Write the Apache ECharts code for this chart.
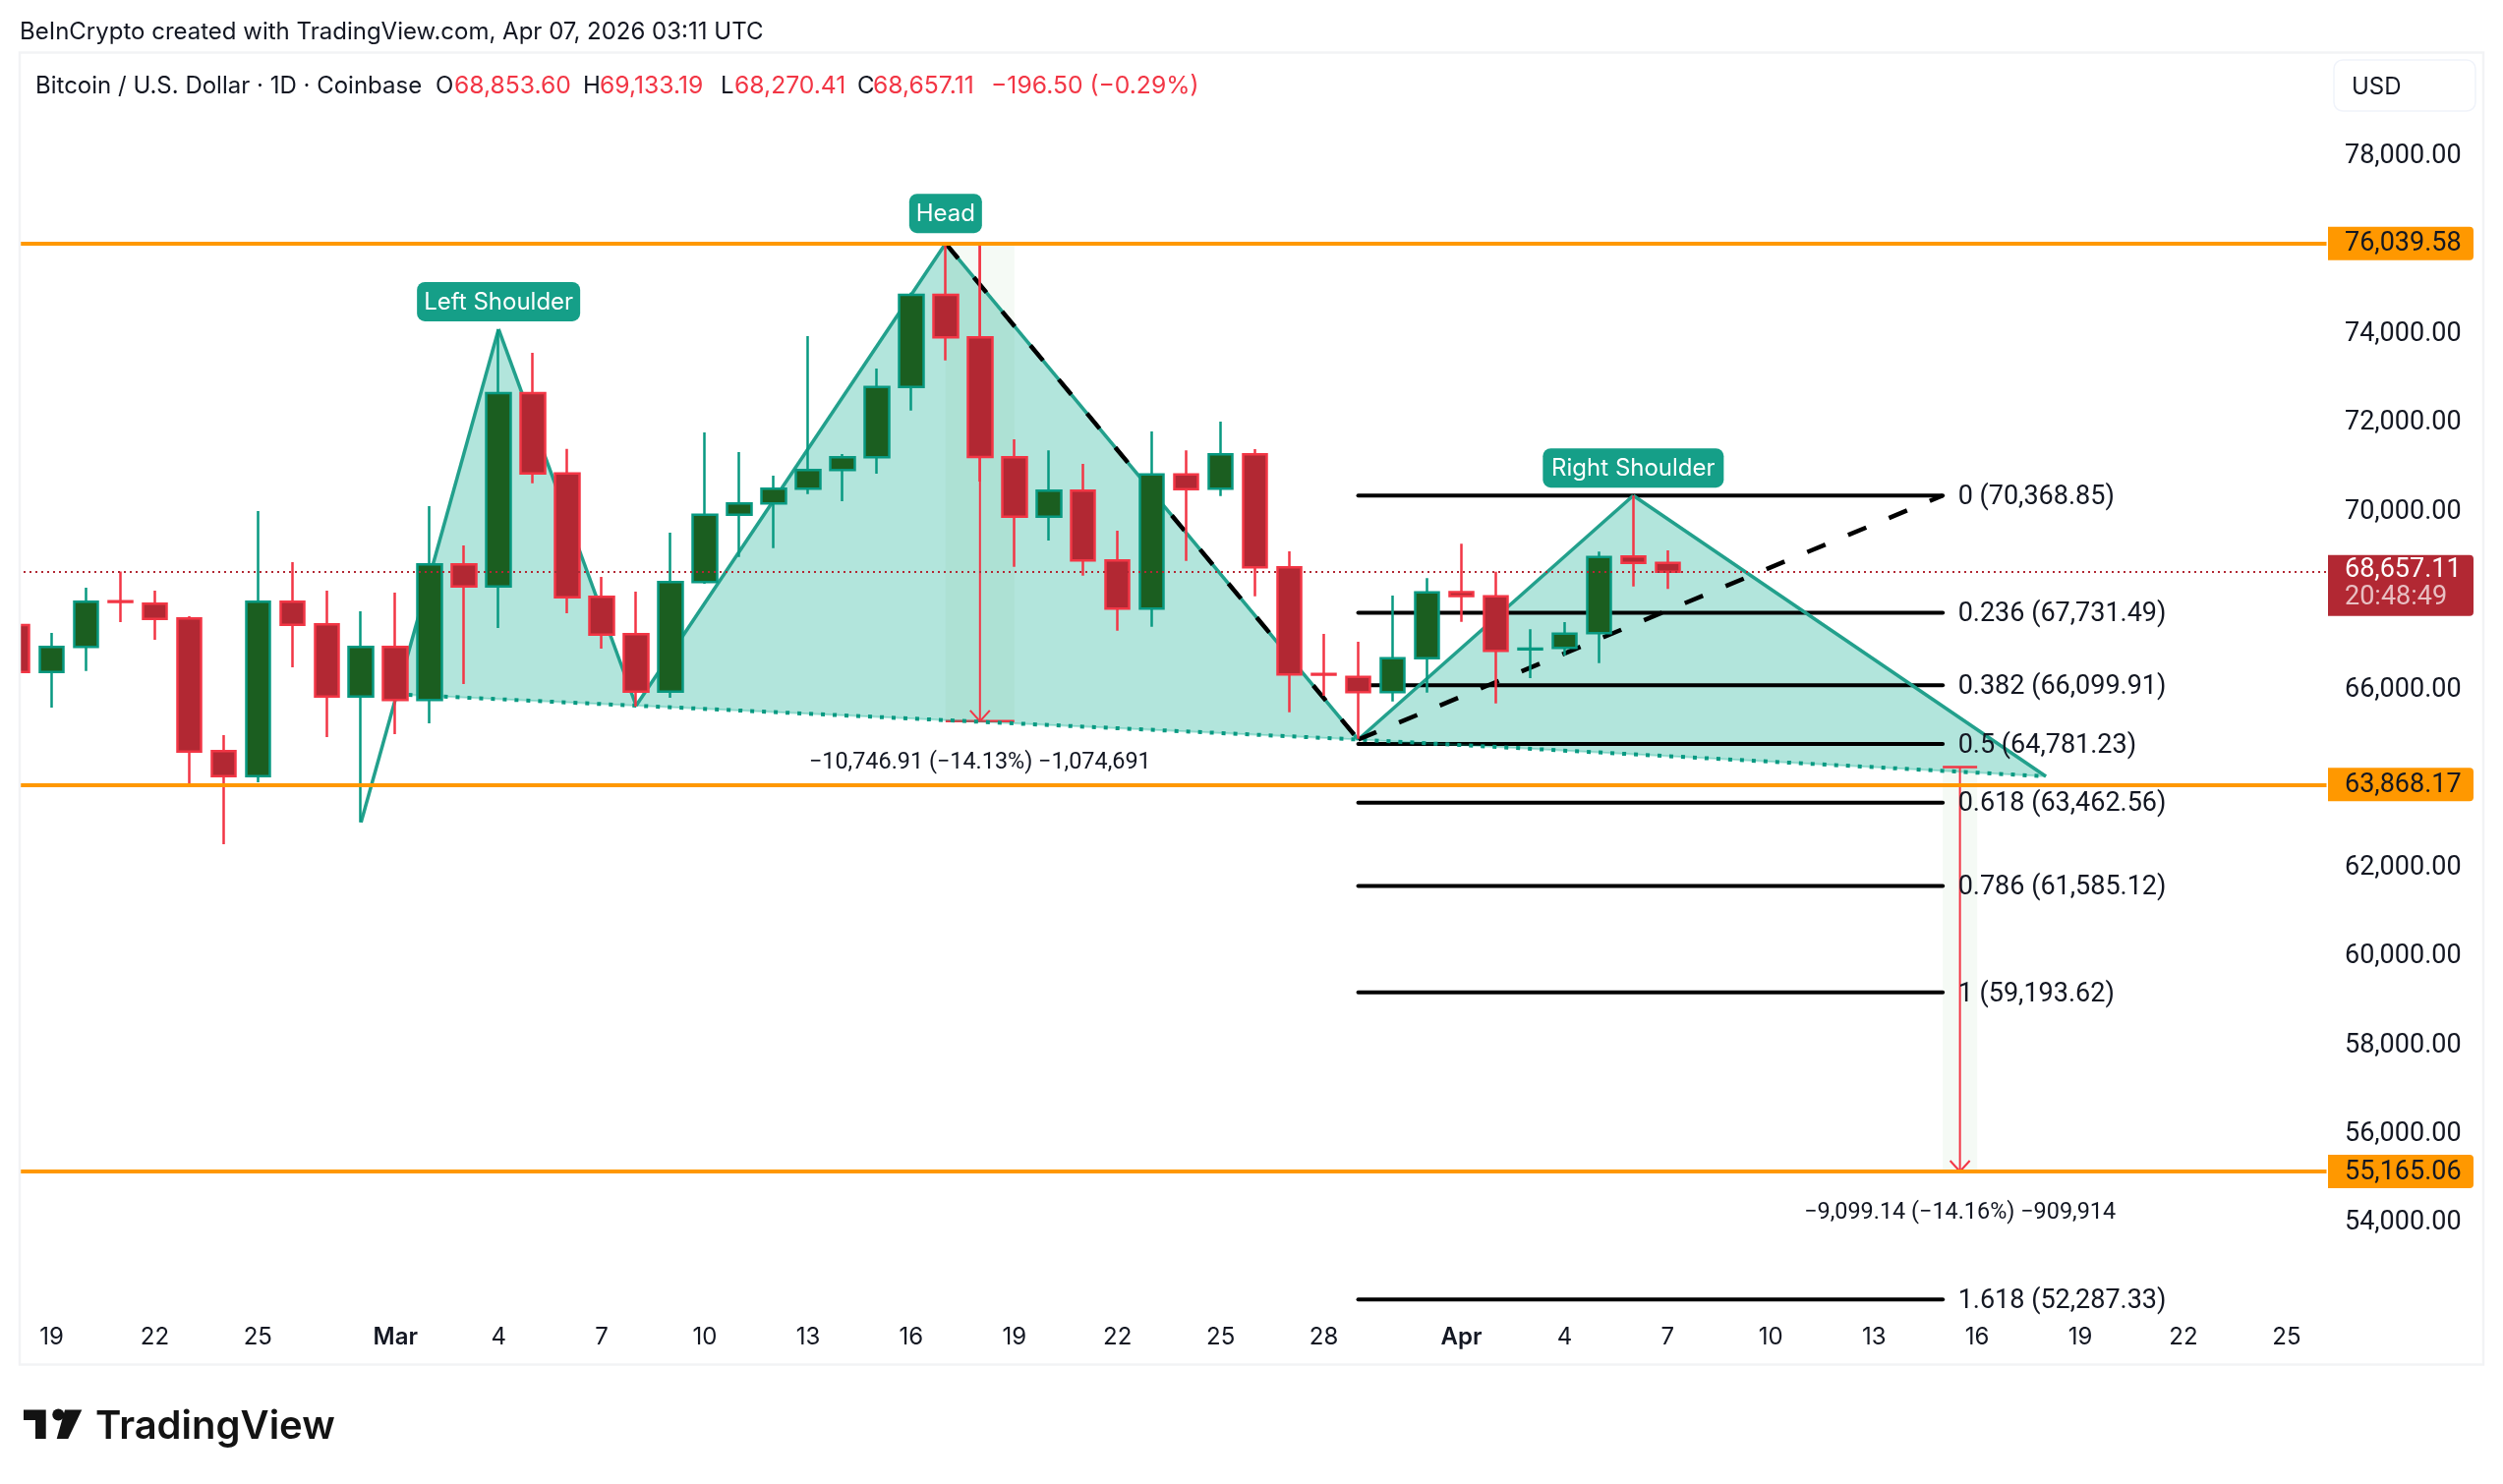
<!DOCTYPE html>
<html><head><meta charset="utf-8">
<style>html,body{margin:0;padding:0;background:#fff}#c{width:2546px;height:1510px}</style>
<script src="https://cdn.jsdelivr.net/npm/echarts@6/dist/echarts.min.js"></script>
</head><body><div id="c"></div>
<script>
const categories = ['Feb 18','Feb 19','Feb 20','Feb 21','Feb 22','Feb 23','Feb 24','Feb 25','Feb 26','Feb 27','Feb 28',
'Mar 1','Mar 2','Mar 3','Mar 4','Mar 5','Mar 6','Mar 7','Mar 8','Mar 9','Mar 10','Mar 11','Mar 12','Mar 13','Mar 14','Mar 15','Mar 16','Mar 17','Mar 18','Mar 19','Mar 20','Mar 21','Mar 22','Mar 23','Mar 24','Mar 25','Mar 26','Mar 27','Mar 28','Mar 29','Mar 30','Mar 31',
'Apr 1','Apr 2','Apr 3','Apr 4','Apr 5','Apr 6','Apr 7','Apr 8','Apr 9','Apr 10','Apr 11','Apr 12','Apr 13','Apr 14','Apr 15','Apr 16','Apr 17','Apr 18','Apr 19','Apr 20','Apr 21','Apr 22','Apr 23','Apr 24','Apr 25','Apr 26'];
// open, close, low, high
const ohlc = [
[67457,66402,66300,67600],[66402,66964,65600,67280],[66964,67981,66420,68297],[67990,67975,67523,68660],[67936,67596,67125,68230],
[67605,64612,63854,67656],[64620,64059,62528,64981],[64059,67981,63920,70021],[67981,67463,66506,68871],[67472,65850,64937,68230],
[65850,66964,63020,67766],[66964,65770,65003,68186],[65770,68820,65246,70131],[68820,68325,66130,69247],[68325,72673,67390,74110],
[72673,70867,70646,73580],[70867,68082,67722,71420],[68091,67242,66926,68540],[67251,65960,65622,68208],[65960,68423,65821,69534],
[68423,69939,68385,71789],[69939,70191,68989,71347],[70191,70522,69187,70817],[70522,70942,70403,73955],[70942,71230,70242,71303],
[71230,72812,70861,73226],[72812,74884,72282,74930],[74884,73926,73409,76040],[73926,71236,70684,76000],[71230,69895,68767,71634],
[69895,70478,69358,71384],[70478,68909,68568,71082],[68909,67826,67331,69579],[67826,70845,67419,71811],[70845,70514,68900,71384],
[70522,71296,70359,72032],[71296,68754,68104,71413],[68754,66345,65496,69114],[66354,66340,65865,67258],[66292,65947,64899,67081],
[65947,66712,65739,68120],[66712,68193,65938,68511],[68197,68109,67530,69285],[68104,66875,65695,68657],[66910,66925,66263,67362],
[66942,67264,66771,67523],[67273,68989,66601,69108],[68997,68853.6,68325,70368.85],[68853.6,68657.11,68270.41,69133.19]];
const xTickDates = ['Feb 19','Feb 22','Feb 25','Mar 1','Mar 4','Mar 7','Mar 10','Mar 13','Mar 16','Mar 19','Mar 22','Mar 25','Mar 28','Apr 1','Apr 4','Apr 7','Apr 10','Apr 13','Apr 16','Apr 19','Apr 22','Apr 25'];
const xTickLabels = ['19','22','25','Mar','4','7','10','13','16','19','22','25','28','Apr','4','7','10','13','16','19','22','25'];
const yTickValues = [78000,74000,72000,70000,66000,62000,60000,58000,56000,54000];
const orangeLevels = [76039.58,63868.17,55165.06];
const lastPrice = 68657.11;
const patternDates = ['Feb 28','Mar 4','Mar 8','Mar 17','Mar 29','Apr 6','Apr 18'];
const patternPrices = [63020,74110,65643,76039.58,64880,70368.85,64052];
const patternLabels = [[1,'Left Shoulder'],[3,'Head'],[5,'Right Shoulder']];
const fibStart = 'Mar 29', fibEnd = 'Apr 15';
const fibPrices = [70368.85,67731.49,66099.91,64781.23,63462.56,61585.12,59193.62,52287.33];
const fibTexts = ['0 (70,368.85)','0.236 (67,731.49)','0.382 (66,099.91)','0.5 (64,781.23)','0.618 (63,462.56)','0.786 (61,585.12)','1 (59,193.62)','1.618 (52,287.33)'];
const measure1 = {from:'Mar 17',to:'Mar 19',top:76039.58,bottom:65292.67,text:'\u221210,746.91 (\u221214.13%) \u22121,074,691'};
const measure2 = {from:'Apr 15',to:'Apr 16',top:64264.2,bottom:55165.06,text:'\u22129,099.14 (\u221214.16%) \u2212909,914'};
const FONT='Inter, "Noto Sans", sans-serif';
const NUM='Roboto, Inter, sans-serif';
const INK='#131722', UP='#1B5E20', UPB='#089981', DN='#B22833', DNB='#F23645', ORANGE='#FF9800', TEAL='#22A08C', LABEL='#159F88';
const fmt = v => v.toLocaleString('en-US',{minimumFractionDigits:2,maximumFractionDigits:2});
const ix = d => categories.indexOf(d);

function line(a,b,stroke,lw,extra){return Object.assign({type:'line',shape:{x1:a[0],y1:a[1],x2:b[0],y2:b[1]},style:Object.assign({stroke,lineWidth:lw},extra||{})});}
function measureShapes(api,m){
  const a=api.coord([ix(m.from),m.top]), b=api.coord([ix(m.to),m.bottom]);
  const cx=(a[0]+b[0])/2;
  return [
   {type:'rect',shape:{x:a[0],y:a[1],width:b[0]-a[0],height:b[1]-a[1]},style:{fill:'rgba(110,185,115,0.07)'}},
   line([cx,a[1]],[cx,b[1]],DNB,2),
   line([a[0],m===measure1?b[1]:a[1]],[b[0],m===measure1?b[1]:a[1]],DNB,2.5),
   line([cx-10,b[1]-11],[cx,b[1]],DNB,2),
   line([cx+10,b[1]-11],[cx,b[1]],DNB,2)
  ];
}
function renderUnder(params,api){
  const p=patternDates.map((d,i)=>api.coord([ix(d),patternPrices[i]]));
  // where the rising first leg meets the neckline
  const n1=p[2],n2=p[4],s=p[0],e=p[1];
  const m=(n2[1]-n1[1])/(n2[0]-n1[0]), k=(e[1]-s[1])/(e[0]-s[0]);
  const xi=(n1[1]-m*n1[0]-s[1]+k*s[0])/(k-m), yi=s[1]+k*(xi-s[0]);
  const q=[xi,yi];
  const fill='rgba(0,170,140,0.3)';
  const kids=[
    {type:'polygon',shape:{points:[q,p[1],p[2]]},style:{fill}},
    {type:'polygon',shape:{points:[p[2],p[3],p[4]]},style:{fill}},
    {type:'polygon',shape:{points:[p[4],p[5],p[6]]},style:{fill}}
  ];
  kids.push(...measureShapes(api,measure1),...measureShapes(api,measure2));
  fibPrices.forEach(v=>{
    kids.push(line(api.coord([ix(fibStart),v]),api.coord([ix(fibEnd),v]),'#000',4,{lineCap:'round'}));
  });
  for(let i=0;i<p.length-1;i++) kids.push(line(p[i],p[i+1],TEAL,3.5));
  kids.push({type:'polyline',shape:{points:[q,p[2],p[4],p[6]]},style:{fill:'none',stroke:'rgba(0,170,140,0.3)',lineWidth:2}});
  kids.push({type:'polyline',shape:{points:[q,p[2],p[4],p[6]]},style:{fill:'none',stroke:'#089981',lineWidth:4,lineDash:[4,8]}});
  const dash={lineDash:[20,25]};
  kids.push(line(p[3],p[4],'#000',4.5,dash));
  kids.push(line(p[4],api.coord([ix(fibEnd),fibPrices[0]]),'#000',4.5,dash));
  return {type:'group',children:kids};
}
function renderOver(params,api){
  const kids=[];
  const W={'Left Shoulder':166,'Head':74,'Right Shoulder':184};
  const GAP={'Left Shoulder':48,'Head':50.5,'Right Shoulder':48};
  patternLabels.forEach(([i,t])=>{
    const c=api.coord([ix(patternDates[i]),patternPrices[i]]);
    const w=W[t], top=c[1]-GAP[t];
    kids.push({type:'rect',shape:{x:c[0]-w/2,y:top,width:w,height:40,r:8},style:{fill:LABEL}});
    kids.push({type:'text',style:{text:t,x:c[0],y:top+21,fill:'#fff',font:'24px '+FONT,textAlign:'center',textVerticalAlign:'middle'}});
  });
  fibPrices.forEach((v,i)=>{
    const c=api.coord([ix(fibEnd),v]);
    kids.push({type:'text',style:{text:fibTexts[i],x:c[0]+15.5,y:c[1]+2,fill:INK,font:'27px '+NUM,textAlign:'left',textVerticalAlign:'middle'}});
  });
  [measure1,measure2].forEach(m=>{
    const a=api.coord([ix(m.from),m.top]), b=api.coord([ix(m.to),m.bottom]);
    kids.push({type:'text',style:{text:m.text,x:(a[0]+b[0])/2,y:b[1]+42,fill:INK,font:'23.4px '+NUM,textAlign:'center',textVerticalAlign:'middle'}});
  });
  orangeLevels.forEach(v=>{
    const y=api.coord([0,v])[1];
    kids.push({type:'rect',shape:{x:2368,y:y-17,width:148,height:34,r:[0,4,4,0]},style:{fill:ORANGE}});
    kids.push({type:'text',style:{text:fmt(v),x:2385,y:y+1,fill:INK,font:'27px '+NUM,textVerticalAlign:'middle'}});
  });
  const ly=api.coord([0,lastPrice])[1];
  kids.push({type:'rect',shape:{x:2368,y:ly-17,width:148,height:62,r:[0,4,4,0]},style:{fill:DN}});
  kids.push({type:'text',style:{text:fmt(lastPrice),x:2385,y:ly-1.5,fill:'#fff',font:'27px '+NUM,textVerticalAlign:'middle'}});
  kids.push({type:'text',style:{text:'20:48:49',x:2385,y:ly+27,fill:'rgba(255,255,255,0.7)',font:'27px '+NUM,textVerticalAlign:'middle'}});
  return {type:'group',children:kids};
}
const head=(text,x,y,fill,font)=>({type:'text',z:80,style:{text,x,y,fill:fill||INK,font:font||('24px '+FONT),textVerticalAlign:'middle'}});
const val=(text,x)=>head(text,x,87.5,DNB,'24.7px '+FONT);
const option={
  animation:false,backgroundColor:'#fff',
  grid:{left:-3,top:68.5,width:2381.36,height:1266.7,containLabel:false},
  xAxis:{type:'category',data:categories,boundaryGap:true,z:70,
    axisLine:{show:false},axisTick:{show:false},splitLine:{show:false},
    axisLabel:{margin:14,color:INK,fontFamily:FONT,fontSize:24,hideOverlap:false,
      interval:(i,v)=>xTickDates.includes(v),
      formatter:v=>{const t=xTickLabels[xTickDates.indexOf(v)];return /[A-Z]/.test(t)?'{m|'+t+'}':t;},
      rich:{m:{fontFamily:FONT,fontSize:24,fontWeight:600,color:INK}}}},
  yAxis:{type:'value',position:'right',min:52000,max:80000,interval:2000,z:70,
    axisLine:{show:false},axisTick:{show:false},splitLine:{show:false},
    axisLabel:{margin:6.6,color:INK,fontFamily:NUM,fontSize:27,
      formatter:v=>yTickValues.includes(v)?fmt(v):''}},
  series:[
    {type:'custom',z:1,clip:false,silent:true,data:[[0,60000]],encode:{x:0,y:1},renderItem:renderUnder},
    {type:'candlestick',z:2,barWidth:25,data:ohlc,silent:true,
      itemStyle:{color:UP,color0:DN,borderColor:UPB,borderColor0:DNB,borderWidth:2.5},
      markLine:{silent:true,symbol:['none','none'],animation:false,label:{show:false},
        lineStyle:{color:ORANGE,width:4,type:'solid'},
        data:orangeLevels.map(v=>({yAxis:v})).concat([{yAxis:lastPrice,lineStyle:{color:DN,width:2,type:[2,4]}}])}},
    {type:'custom',z:60,clip:false,silent:true,data:[[0,60000]],encode:{x:0,y:1},renderItem:renderOver}
  ],
  graphic:{elements:[
    {type:'rect',z:50,shape:{x:0,y:40,width:19.5,height:1360},style:{fill:'#fff'}},
    {type:'rect',z:50,shape:{x:2366.5,y:40,width:180,height:1360},style:{fill:'#fff'}},
    {type:'rect',z:55,shape:{x:20,y:53.5,width:2506,height:1335},style:{fill:'none',stroke:'#F2F3F5',lineWidth:2.5}},
    {type:'rect',z:80,shape:{x:2374,y:61,width:144,height:52,r:9},style:{fill:'#fff',stroke:'#F0F3FA',lineWidth:1.5}},
    head('USD',2392,88.5),
    head('BeInCrypto created with TradingView.com, Apr 07, 2026 03:11 UTC',20,33),
    head('Bitcoin / U.S. Dollar \u00b7 1D \u00b7 Coinbase',36,87.5),
    head('O',443,87.5),val('68,853.60',462),
    head('H',593,87.5),val('69,133.19',610),
    head('L',733,87.5),val('68,270.41',747),
    head('C',872,87.5),val('68,657.11',888),
    val('\u2212196.50 (\u22120.29%)',1008),
    {type:'polygon',z:80,shape:{points:[[24,1434.5],[46.7,1434.5],[46.7,1464],[36,1464],[36,1445],[24,1445]]},style:{fill:'#131313'}},
    {type:'circle',z:80,shape:{cx:59.3,cy:1439.5,r:6},style:{fill:'#131313'}},
    {type:'polygon',z:80,shape:{points:[[66,1434.5],[83.3,1434.5],[69.3,1464],[57.7,1464]]},style:{fill:'#131313'}},
    head('TradingView',97,1451.5,'#131313','600 40px '+FONT)
  ]}
};
const chart=echarts.init(document.getElementById('c'),null,{renderer:'canvas',width:2546,height:1510});
chart.setOption(option);
</script></body></html>
